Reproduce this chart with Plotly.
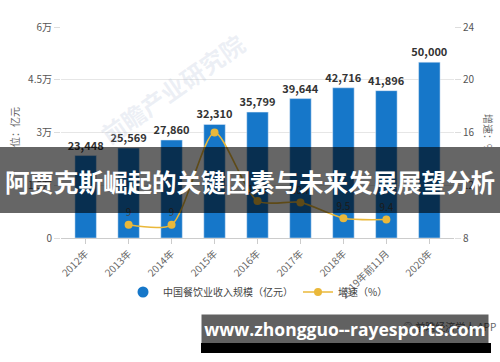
import plotly.graph_objects as go

# ---- data ----
years = ["2012年", "2013年", "2014年", "2015年", "2016年", "2017年", "2018年", "2019年前11月", "2020年"]
revenue = [23448, 25569, 27860, 32310, 35799, 39644, 42716, 41896, 50000]
growth = [None, 9, 9, 16, 10.8, 10.7, 9.5, 9.4, None]
growth_labels = ["", "9", "9", "", "10.8", "10.7", "9.5", "9.4", ""]
left_tickvals = [0, 15000, 30000, 45000, 60000]
left_ticktext = ["0", "1.5万", "3万", "4.5万", "6万"]
right_tickvals = [8, 12, 16, 20, 24]

CJK = "Noto Sans CJK SC"
BLUE = "#1677c9"
GOLD = "#eab83a"

# plot-area pixel geometry helpers
L, T, W, H = 61, 27, 393, 211
def px(x):
    return (x - L) / W
def py(y):
    return (T + H - y) / H

fig = go.Figure()

fig.add_trace(go.Bar(
    x=years, y=revenue, name="中国餐饮业收入规模（亿元）",
    marker=dict(color=BLUE), showlegend=False,
    text=revenue, texttemplate="%{y:,}", textposition="outside",
    constraintext="none",
    textfont=dict(family=CJK, size=11, color="#333333", weight="bold"),
    cliponaxis=False,
))
# legend entry with a round marker for the bars
fig.add_trace(go.Scatter(
    x=[None], y=[None], mode="markers", name="中国餐饮业收入规模（亿元）",
    marker=dict(color=BLUE, size=11, symbol="circle"),
))
fig.add_trace(go.Scatter(
    x=years, y=growth, name="增速（%）", yaxis="y2",
    mode="lines+markers+text", line=dict(color=GOLD, width=1.6, shape="spline", smoothing=0.7),
    marker=dict(color=GOLD, size=8),
    text=growth_labels, textposition="top center",
    textfont=dict(family=CJK, size=10, color="#444444"),
    cliponaxis=False, connectgaps=False,
))

fig.update_layout(
    width=500, height=362,
    margin=dict(l=L, r=500 - L - W, t=T, b=362 - T - H),
    paper_bgcolor="white", plot_bgcolor="white",
    bargap=0.5,
    font=dict(family=CJK, size=10, color="#555555"),
    xaxis=dict(
        tickangle=-45, tickfont=dict(size=10, color="#666666"),
        ticks="outside", ticklen=5, tickcolor="#cccccc",
        showline=True, linecolor="#cccccc", showgrid=False,
    ),
    yaxis=dict(
        range=[0, 60000], tickvals=left_tickvals, ticktext=left_ticktext,
        tickfont=dict(size=10, color="#555555"),
        ticks="outside", ticklen=6, tickcolor="#dddddd",
        gridcolor="#e6e6e6", zeroline=False, showline=False,
    ),
    yaxis2=dict(
        overlaying="y", side="right", range=[8, 24], tickvals=right_tickvals,
        tickfont=dict(size=10, color="#555555"),
        ticks="outside", ticklen=6, tickcolor="#dddddd",
        showgrid=False, zeroline=False, showline=False,
    ),
    legend=dict(
        orientation="h", x=px(123), y=py(292), xanchor="left", yanchor="middle",
        font=dict(size=10, color="#444444"), bgcolor="rgba(0,0,0,0)",
        itemwidth=30,
    ),
)

def ann(text, x, y, **kw):
    d = dict(text=text, x=px(x), y=py(y), xref="paper", yref="paper",
             showarrow=False, xanchor="center", yanchor="middle")
    d.update(kw)
    return d

annotations = [
    # faint watermark
    ann("前瞻产业研究院", 172, 88, textangle=-35,
        font=dict(size=24, color="rgba(170,185,210,0.22)", weight="bold")),
    # axis titles
    ann("单位：亿元", 14, 132, textangle=-90, font=dict(size=10, color="#666666")),
    ann("增速：%", 489, 133, textangle=90, font=dict(size=10, color="#666666")),
    # title banner text
    ann("阿贾克斯崛起的关键因素与未来发展展望分析", 250, 181,
        font=dict(size=24.5, color="white", weight="bold")),
    # source credit partly hidden under bottom banner
    ann("◎ 前瞻经济学人 APP", 498, 326, xanchor="right", font=dict(size=10, color="#666666")),
    # bottom banner
    ann("www.zhongguo--rayesports.com", 345, 329, width=282, height=24,
        bgcolor="rgba(0,0,0,0.62)", borderpad=2, valign="bottom",
        font=dict(family="Open Sans", size=17.5, color="white", weight="bold")),
]
fig.update_layout(annotations=annotations)

fig.update_layout(shapes=[
    dict(type="rect", xref="paper", yref="paper", x0=px(-2), x1=px(502), y0=py(213), y1=py(147),
         fillcolor="rgba(0,0,0,0.6)", line=dict(width=0), layer="above"),
    dict(type="rect", xref="paper", yref="paper", x0=px(201), x1=px(491), y0=py(353), y1=py(343),
         fillcolor="black", line=dict(width=0), layer="above"),
])

fig.write_html("out.html", config={"displayModeBar": False},
               post_script="document.body.style.margin='0';document.body.style.overflow='hidden';")
